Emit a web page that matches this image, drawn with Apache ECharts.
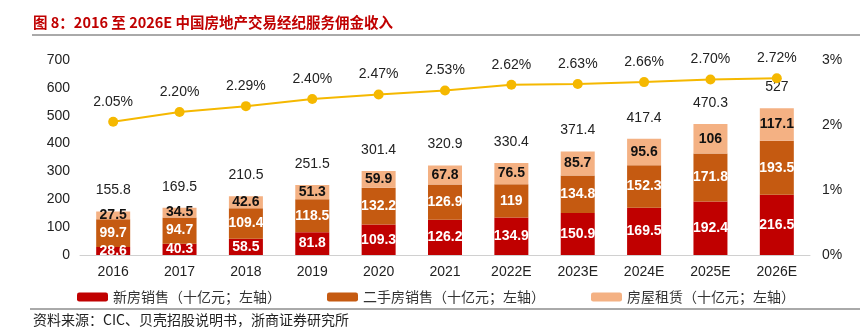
<!DOCTYPE html>
<html>
<head>
<meta charset="utf-8">
<script src="https://cdn.jsdelivr.net/npm/echarts@6/dist/echarts.min.js"></script>
<style>
  html, body { margin: 0; padding: 0; background: #fff; }
  #chart { width: 862px; height: 328px; }
</style>
</head>
<body>
<div id="chart"></div>
<script>
const years = ['2016', '2017', '2018', '2019', '2020', '2021', '2022E', '2023E', '2024E', '2025E', '2026E'];
const newHome = [28.6, 40.3, 58.5, 81.8, 109.3, 126.2, 134.9, 150.9, 169.5, 192.4, 216.5];
const secondHand = [99.7, 94.7, 109.4, 118.5, 132.2, 126.9, 119, 134.8, 152.3, 171.8, 193.5];
const rental = [27.5, 34.5, 42.6, 51.3, 59.9, 67.8, 76.5, 85.7, 95.6, 106, 117.1];
const totals = [155.8, 169.5, 210.5, 251.5, 301.4, 320.9, 330.4, 371.4, 417.4, 470.3, 527];
const commissionRate = [2.05, 2.20, 2.29, 2.40, 2.47, 2.53, 2.62, 2.63, 2.66, 2.70, 2.72];

const FONT = '"Liberation Sans", Arial, sans-serif';
const CJK = '"Noto Sans CJK SC", sans-serif';

const chart = echarts.init(document.getElementById('chart'));

const innerLabel = (color) => ({
    show: true,
    position: 'inside',
    color: color,
    fontWeight: 'bold',
    fontSize: 14,
    fontFamily: FONT
});

chart.setOption({
    animation: false,
    textStyle: { fontFamily: FONT },
    grid: { left: 80, right: 52, top: 60, bottom: 73 },
    legend: {
        data: ['新房销售（十亿元；左轴）', '二手房销售（十亿元；左轴）', '房屋租赁（十亿元；左轴）'],
        left: 72,
        top: 285,
        itemWidth: 31,
        itemHeight: 9,
        itemGap: 46,
        textStyle: { fontFamily: CJK, fontSize: 14, color: '#333' }
    },
    xAxis: {
        type: 'category',
        data: years,
        axisLine: { lineStyle: { color: '#d0d0d0' } },
        axisTick: { show: false },
        axisLabel: { color: '#222', fontSize: 14, margin: 10 }
    },
    yAxis: [
        {
            type: 'value',
            min: 0, max: 700, interval: 100,
            splitLine: { show: false },
            axisLine: { show: false },
            axisTick: { show: false },
            axisLabel: { color: '#222', fontSize: 14, margin: 10 }
        },
        {
            type: 'value',
            min: 0, max: 3, interval: 1,
            splitLine: { show: false },
            axisLine: { show: false },
            axisTick: { show: false },
            axisLabel: { color: '#222', fontSize: 14, margin: 12, formatter: '{value}%' }
        }
    ],
    series: [
        {
            name: '新房销售（十亿元；左轴）',
            type: 'bar',
            stack: 'rev',
            barWidth: 34,
            data: newHome,
            itemStyle: { color: '#C00000' },
            label: innerLabel('#fff')
        },
        {
            name: '二手房销售（十亿元；左轴）',
            type: 'bar',
            stack: 'rev',
            data: secondHand,
            itemStyle: { color: '#C55A11' },
            label: innerLabel('#fff')
        },
        {
            name: '房屋租赁（十亿元；左轴）',
            type: 'bar',
            stack: 'rev',
            data: rental,
            itemStyle: { color: '#F4B183' },
            label: innerLabel('#111')
        },
        {
            name: 'total',
            type: 'bar',
            barWidth: 34,
            barGap: '-100%',
            data: totals,
            itemStyle: { color: 'rgba(0,0,0,0)' },
            silent: true,
            z: 1,
            label: {
                show: true,
                position: 'top',
                distance: 14,
                color: '#222',
                fontSize: 14
            }
        },
        {
            name: 'rate',
            type: 'line',
            yAxisIndex: 1,
            data: commissionRate,
            symbol: 'circle',
            symbolSize: 10,
            lineStyle: { color: '#F5B800', width: 2 },
            itemStyle: { color: '#F5B800' },
            z: 5,
            label: {
                show: true,
                position: 'top',
                distance: 8,
                color: '#222',
                fontSize: 14,
                formatter: (p) => p.value.toFixed(2) + '%'
            }
        }
    ],
    graphic: [
        {
            type: 'text',
            left: 33,
            top: 15,
            style: {
                text: '图 8：2016 至 2026E 中国房地产交易经纪服务佣金收入',
                fill: '#C00000',
                font: 'bold 14.5px ' + CJK
            }
        },
        {
            type: 'line',
            shape: { x1: 32, y1: 35, x2: 860, y2: 35 },
            style: { stroke: '#555', lineWidth: 1 }
        },
        {
            type: 'line',
            shape: { x1: 30, y1: 309, x2: 860, y2: 309 },
            style: { stroke: '#555', lineWidth: 1 }
        },
        {
            type: 'text',
            left: 33,
            top: 313,
            style: {
                text: '资料来源：CIC、贝壳招股说明书，浙商证券研究所',
                fill: '#222',
                font: '14px ' + CJK
            }
        }
    ]
});
</script>
</body>
</html>
